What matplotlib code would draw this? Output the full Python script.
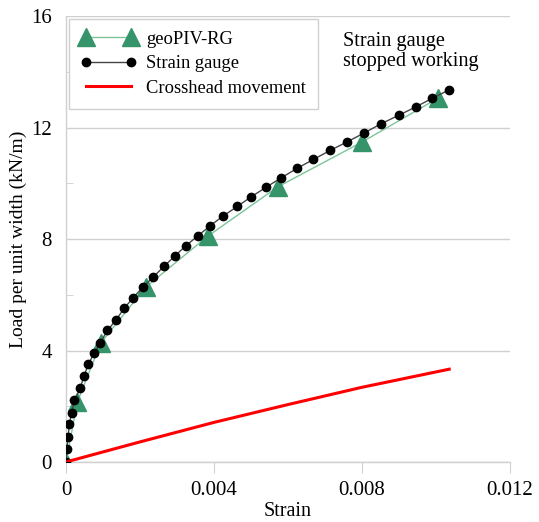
import matplotlib.pyplot as plt
from matplotlib.ticker import MultipleLocator

plt.rcParams['font.family'] = ['Liberation Serif', 'DejaVu Serif']

# geoPIV-RG
piv_strain = [0.0, 0.00031, 0.00094, 0.00216, 0.00383, 0.00572, 0.0080, 0.01006]
piv_load = [0.0, 2.16, 4.27, 6.28, 8.1, 9.87, 11.48, 13.06]

# strain gauge
sg_strain = [0.0, 0.00002, 0.00006, 0.00009, 0.00015, 0.00023, 0.00038, 0.00049,
             0.00060, 0.00076, 0.00092, 0.00112, 0.00135, 0.00157, 0.00181, 0.00208,
             0.00236, 0.00265, 0.00294, 0.00324, 0.00357, 0.00390, 0.00425, 0.00463,
             0.00501, 0.00541, 0.00582, 0.00625, 0.00669, 0.00714, 0.00760, 0.00805,
             0.00852, 0.00899, 0.00945, 0.00990, 0.01036]
sg_load = [0.0, 0.47, 0.91, 1.35, 1.75, 2.22, 2.64, 3.09, 3.50, 3.90, 4.26, 4.72,
           5.09, 5.51, 5.89, 6.27, 6.64, 7.02, 7.39, 7.76, 8.12, 8.48, 8.83, 9.17,
           9.52, 9.86, 10.20, 10.54, 10.86, 11.18, 11.49, 11.80, 12.14, 12.44,
           12.74, 13.05, 13.36]

# crosshead movement
ch_strain = [0.0, 0.002, 0.004, 0.006, 0.008, 0.01036]
ch_load = [0.0, 0.72, 1.42, 2.06, 2.68, 3.33]

fig = plt.figure(figsize=(5.39, 5.22), dpi=100)
ax = fig.add_axes([0.1224, 0.115, 0.8236, 0.854])

grey = '#d0d0d0'
ax.plot(piv_strain, piv_load, color='#7cc49a', lw=1, marker='^', ms=13,
        mfc='#35946a', mec='#35946a', label='geoPIV-RG', zorder=2)
ax.plot(sg_strain, sg_load, color='#444444', lw=1, marker='o', ms=6,
        mfc='black', mec='black', label='Strain gauge', zorder=3)
ax.plot(ch_strain, ch_load, color='#ff0000', lw=2.2, label='Crosshead movement', zorder=4)

ax.set_xlim(0, 0.012)
ax.set_ylim(0, 16)
ax.set_xticks([0, 0.004, 0.008, 0.012])
ax.set_xticklabels(['0', '0.004', '0.008', '0.012'])
ax.set_yticks([0, 4, 8, 12, 16])
ax.yaxis.set_minor_locator(MultipleLocator(2))
ax.grid(axis='y', which='major', color=grey, lw=1)
ax.set_axisbelow(True)

for s in ['top', 'right']:
    ax.spines[s].set_visible(False)
for s in ['left', 'bottom']:
    ax.spines[s].set_color(grey)
    ax.spines[s].set_linewidth(1)

ax.tick_params(axis='x', direction='out', length=8, color=grey, labelsize=15, pad=6)
ax.tick_params(axis='y', which='major', length=0, labelsize=15, pad=10)
ax.tick_params(axis='y', which='minor', direction='in', length=5, color=grey)

ax.set_xlabel('Strain', fontsize=14.5, labelpad=1)
ax.set_ylabel('Load per unit width (kN/m)', fontsize=14, labelpad=3)

leg = ax.legend(loc='upper left', numpoints=2, fontsize=13.3, fancybox=False,
                edgecolor=grey, framealpha=1, handlelength=3,
                borderaxespad=0.15, labelspacing=0.4, handletextpad=0.55,
                borderpad=0.65)
leg.get_frame().set_linewidth(1)

ax.text(0.0075, 15.45, 'Strain gauge\nstopped working', fontsize=14.6,
        va='top', ha='left', linespacing=1.1)

fig.savefig('out.png', dpi=100)
